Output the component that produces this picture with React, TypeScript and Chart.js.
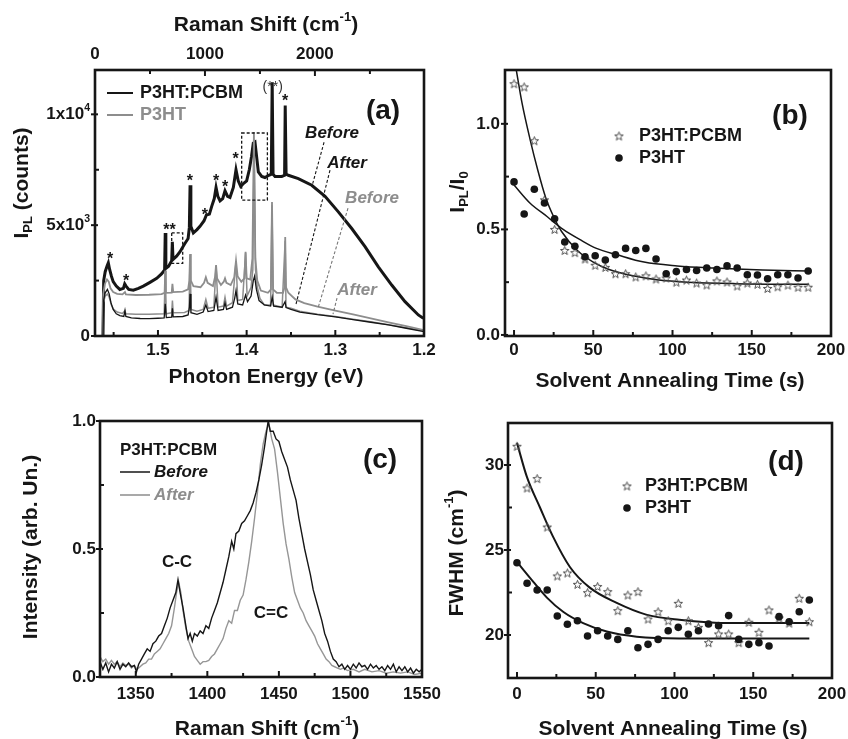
import React, { useEffect, useRef } from 'react';
import { Chart, registerables } from 'chart.js';

Chart.register(...registerables);

const W = 848;
const H = 739;
const FONT = "'Liberation Sans', Arial, Helvetica, sans-serif";
const INK = '#161616';
const GREY = '#8d8d8d';

// ================= Panel (a): PL spectra =================
const aEnergyTicks = [1.2, 1.3, 1.4, 1.5];
const aEnergyMinor = [1.25, 1.35, 1.45, 1.55];
const aRamanTicks = [0, 1000, 2000];
const aRamanMinor = [500, 1500, 2500];
const aCountTicks = [0, 5000, 10000];
const aCountMinor = [2500, 7500];
const aCountLabels = [['0', ''], ['5x10', '3'], ['1x10', '4']];

const aPcbmBefore = [
  [1.562, 0], [1.5612, 2500], [1.5595, 2900], [1.5575, 3150], [1.556, 3300], [1.5545, 3000], [1.5525, 2700],
  [1.5505, 2450], [1.547, 2250], [1.543, 2100], [1.539, 2150], [1.5375, 2350], [1.536, 2250], [1.533, 2100],
  [1.5278, 2070], [1.522, 2150], [1.5165, 2250], [1.509, 2420], [1.5014, 2600], [1.496, 2800], [1.4925, 2980],
  [1.4918, 4650], [1.4911, 3050], [1.488, 3150], [1.4845, 3400], [1.4838, 4250], [1.483, 3450], [1.479, 3600],
  [1.4751, 3800], [1.47, 4150], [1.466, 4400], [1.4646, 4900], [1.4638, 6800], [1.4629, 4950], [1.4601, 4650],
  [1.456, 4800], [1.4526, 4950], [1.448, 5200], [1.4455, 5450], [1.442, 5500], [1.4394, 5850], [1.4365, 6200],
  [1.4345, 6700], [1.4325, 6300], [1.43, 6100], [1.427, 6200], [1.4244, 6550], [1.4215, 6300], [1.4188, 6250],
  [1.415, 6700], [1.412, 7500], [1.4095, 7000], [1.4067, 6750], [1.403, 6900], [1.4, 7000], [1.397, 7500],
  [1.3945, 8100], [1.3925, 8700], [1.3906, 8750], [1.3885, 8000], [1.3868, 7400], [1.383, 7200], [1.3793, 7150],
  [1.375, 7250], [1.3722, 7300], [1.3712, 11450], [1.3702, 7300], [1.368, 7200], [1.3604, 7200], [1.3572, 7250],
  [1.3565, 10400], [1.3555, 7300], [1.353, 7250], [1.3417, 7100], [1.3266, 6800], [1.3116, 6300], [1.2966, 5600],
  [1.2815, 4850], [1.2665, 4030], [1.2515, 3120], [1.2364, 2300], [1.2214, 1550], [1.2064, 950], [1.2007, 800],
];

const aPcbmAfter = [
  [1.562, 0], [1.5613, 1600], [1.5595, 1950], [1.557, 2100], [1.555, 1900], [1.553, 1500], [1.5505, 1200],
  [1.547, 1000], [1.543, 920], [1.5385, 880], [1.5372, 1150], [1.5362, 880], [1.53, 820], [1.52, 790], [1.51, 780],
  [1.5, 800], [1.493, 820], [1.4918, 1450], [1.4906, 830], [1.4845, 850], [1.4837, 1250], [1.4828, 860],
  [1.472, 880], [1.466, 950], [1.4645, 1300], [1.4638, 1900], [1.4628, 1050], [1.456, 980], [1.449, 1080],
  [1.446, 1400], [1.4435, 1100], [1.437, 1150], [1.4345, 1750], [1.4322, 1150], [1.4262, 1200], [1.4244, 1500],
  [1.4226, 1200], [1.416, 1300], [1.4135, 1700], [1.412, 2050], [1.41, 1450], [1.4045, 1400], [1.4012, 1850],
  [1.399, 1550], [1.395, 1800], [1.3925, 2500], [1.391, 2700], [1.389, 2100], [1.386, 1600], [1.38, 1400],
  [1.373, 1350], [1.3712, 1750], [1.3695, 1350], [1.36, 1300], [1.3567, 1550], [1.3555, 1280], [1.35, 1200],
  [1.34, 1080], [1.32, 960], [1.3, 860], [1.28, 740], [1.26, 620], [1.24, 500], [1.22, 350], [1.2, 200],
];

const aP3htBefore = [
  [1.5625, 0], [1.5617, 1900], [1.5598, 2350], [1.5575, 2550], [1.5555, 2450], [1.5535, 2150], [1.5505, 1980],
  [1.546, 1900], [1.54, 1880], [1.5372, 1980], [1.5362, 1880], [1.525, 1850], [1.51, 1860], [1.496, 1890],
  [1.4925, 1950], [1.4918, 2950], [1.491, 1950], [1.4845, 1960], [1.4837, 2350], [1.4828, 1980], [1.472, 2000],
  [1.466, 2100], [1.4646, 2500], [1.4638, 3700], [1.4629, 2500], [1.46, 2250], [1.452, 2200], [1.448, 2400],
  [1.446, 2650], [1.444, 2400], [1.438, 2250], [1.4357, 2650], [1.4345, 3200], [1.4333, 2600], [1.429, 2300],
  [1.4258, 2450], [1.4244, 2600], [1.4228, 2400], [1.418, 2300], [1.414, 2650], [1.412, 3400], [1.4102, 2700],
  [1.406, 2450], [1.4025, 2600], [1.4012, 3800], [1.4, 2600], [1.396, 2550], [1.3935, 3500], [1.3918, 9200],
  [1.3902, 3500], [1.388, 2500], [1.384, 2050], [1.376, 1950], [1.3726, 2100], [1.3714, 6050], [1.3702, 2100],
  [1.366, 1950], [1.359, 1950], [1.3572, 2200], [1.3565, 4470], [1.3556, 2200], [1.353, 1950], [1.345, 1650],
  [1.335, 1480], [1.32, 1320], [1.3, 1150], [1.28, 980], [1.26, 800], [1.24, 620], [1.22, 440], [1.2, 260],
];

const aP3htAfter = [
  [1.5625, 0], [1.5616, 1500], [1.5595, 1800], [1.557, 1900], [1.555, 1750], [1.5525, 1400], [1.55, 1200],
  [1.546, 1080], [1.54, 1020], [1.5372, 1150], [1.5362, 1000], [1.525, 980], [1.51, 980], [1.493, 1000],
  [1.4918, 2900], [1.4906, 1000], [1.4845, 1050], [1.4837, 1600], [1.4828, 1050], [1.47, 1060], [1.465, 1150],
  [1.4638, 3650], [1.4626, 1200], [1.456, 1120], [1.449, 1200], [1.446, 1650], [1.4435, 1250], [1.437, 1300],
  [1.4345, 3150], [1.4322, 1300], [1.4262, 1350], [1.4244, 1750], [1.4226, 1350], [1.416, 1500], [1.412, 3350],
  [1.41, 1600], [1.4045, 1650], [1.4012, 3750], [1.3995, 1800], [1.395, 2200], [1.393, 3000], [1.3916, 8700],
  [1.39, 3000], [1.388, 2200], [1.385, 1700], [1.38, 1400], [1.373, 1400], [1.3714, 5900], [1.37, 1400],
  [1.36, 1300], [1.3566, 4300], [1.3556, 1300], [1.35, 1250], [1.34, 1120], [1.32, 980], [1.3, 880], [1.28, 760],
  [1.26, 640], [1.24, 510], [1.22, 370], [1.2, 220],
];

// ================= Panels (b), (d): time series =================
const timeS = [0, 6.4, 12.8, 19.2, 25.6, 32, 38.4, 44.8, 51.2, 57.6, 64, 70.4, 76.8, 83.2, 89.6, 96, 102.4,
  108.8, 115.2, 121.6, 128, 134.4, 140.8, 147.2, 153.6, 160, 166.4, 172.8, 179.2, 185.6];
const timeTicks = [0, 50, 100, 150, 200];
const timeMinor = [25, 75, 125, 175];

const bRatioTicks = [0, 0.5, 1.0];
const bRatioMinor = [0.25, 0.75];
const bPcbm = [1.19, 1.175, 0.92, 0.64, 0.5, 0.4, 0.39, 0.36, 0.33, 0.32, 0.29, 0.29, 0.275, 0.28, 0.265, 0.27,
  0.25, 0.26, 0.246, 0.237, 0.256, 0.251, 0.232, 0.246, 0.24, 0.22, 0.228, 0.236, 0.226, 0.226];
const bP3ht = [0.725, 0.573, 0.69, 0.625, 0.55, 0.44, 0.42, 0.37, 0.375, 0.355, 0.38, 0.41, 0.4, 0.41, 0.36, 0.29,
  0.3, 0.31, 0.305, 0.317, 0.31, 0.327, 0.317, 0.285, 0.284, 0.266, 0.285, 0.285, 0.27, 0.303];
const bPcbmFit = [[1.3, 1.26], [5, 1.1], [10, 0.93], [15, 0.78], [20, 0.65], [25, 0.56], [30, 0.49], [40, 0.4],
  [50, 0.345], [60, 0.31], [75, 0.28], [90, 0.262], [110, 0.25], [140, 0.243], [186, 0.24]];
const bP3htFit = [[0, 0.71], [10, 0.625], [21, 0.56], [31, 0.5], [42, 0.45], [52, 0.41], [65, 0.38], [82, 0.345],
  [103, 0.327], [126, 0.317], [157, 0.308], [186, 0.303]];

const dFwhmTicks = [20, 25, 30];
const dFwhmMinor = [22.5, 27.5];
const dPcbm = [31.1, 28.65, 29.2, 26.35, 23.47, 23.65, 22.98, 22.49, 22.85, 22.55, 21.43, 22.35, 22.55, 20.94,
  21.37, 20.84, 21.86, 20.84, 20.45, 19.55, 20.06, 20.06, 19.55, 20.75, 20.16, 21.47, 21.0, 20.7, 22.16, 20.78];
const dP3ht = [24.25, 23.04, 22.65, 22.65, 21.12, 20.63, 20.84, 19.94, 20.25, 19.94, 19.74, 20.25, 19.25, 19.45,
  19.74, 20.25, 20.45, 20.04, 20.25, 20.65, 20.55, 21.14, 19.74, 19.45, 19.55, 19.35, 21.08, 20.78, 21.37, 22.06];
const dPcbmFit = [[0, 31.3], [6.3, 29.3], [14.6, 27.5], [22.8, 25.8], [33.6, 24.0], [46, 22.8], [63, 21.9],
  [82, 21.2], [103, 20.9], [135, 20.7], [185.6, 20.7]];
const dP3htFit = [[0, 24.3], [8.4, 23.35], [19, 22.2], [29.5, 21.35], [42, 20.7], [57, 20.2], [76, 19.9],
  [103, 19.8], [185.6, 19.8]];

// ================= Panel (c): Raman spectra =================
const cShiftTicks = [1350, 1400, 1450, 1500, 1550];
const cShiftMinor = [1375, 1425, 1475, 1525];
const cIntTicks = [0, 0.5, 1.0];
const cIntMinor = [0.25, 0.75];
const cBefore = [
  [1325, 0.06], [1327, 0.03], [1329, 0.055], [1331, 0.02], [1333, 0.05], [1335, 0.035], [1337, 0.06], [1339, 0.03],
  [1341, 0.05], [1343, 0.04], [1345, 0.055], [1347, 0.04], [1349, 0.045], [1350.5, 0.02], [1352, 0.05], [1354, 0.07],
  [1356, 0.09], [1358, 0.11], [1360, 0.1], [1362, 0.13], [1364, 0.14], [1366, 0.16], [1368, 0.17], [1370, 0.2],
  [1372, 0.23], [1374, 0.27], [1376, 0.3], [1378, 0.33], [1379.5, 0.38], [1381, 0.33], [1383, 0.27], [1385, 0.2],
  [1386.5, 0.15], [1388, 0.17], [1389.5, 0.14], [1391, 0.17], [1393, 0.16], [1395, 0.18], [1397, 0.17], [1399, 0.2],
  [1401, 0.19], [1403, 0.23], [1405, 0.26], [1407, 0.29], [1409, 0.33], [1411, 0.37], [1413, 0.42], [1415, 0.47],
  [1417, 0.53], [1418.5, 0.5], [1420, 0.56], [1422, 0.57], [1424, 0.6], [1426, 0.61], [1428, 0.63], [1430, 0.65],
  [1432, 0.68], [1434, 0.72], [1436, 0.77], [1438, 0.83], [1440, 0.9], [1441.5, 0.96], [1442.5, 1.0], [1444, 0.96],
  [1446, 0.96], [1448, 0.93], [1450, 0.92], [1452, 0.88], [1454, 0.85], [1456, 0.82], [1458, 0.77], [1460, 0.73],
  [1462, 0.69], [1464, 0.62], [1466, 0.56], [1468, 0.5], [1470, 0.45], [1472, 0.4], [1474, 0.34], [1476, 0.3],
  [1478, 0.26], [1480, 0.22], [1482, 0.17], [1484, 0.14], [1486, 0.1], [1488, 0.07], [1490, 0.06], [1492, 0.04],
  [1494, 0.05], [1496, 0.03], [1498, 0.045], [1500, 0.03], [1502, 0.05], [1504, 0.035], [1506, 0.055], [1508, 0.04],
  [1510, 0.045], [1512, 0.03], [1514, 0.05], [1516, 0.035], [1518, 0.045], [1520, 0.03], [1522, 0.04], [1524, 0.025],
  [1526, 0.045], [1528, 0.03], [1530, 0.05], [1532, 0.02], [1534, 0.04], [1536, 0.025], [1538, 0.04], [1540, 0.02],
  [1542, 0.035], [1544, 0.015], [1546, 0.03], [1548, 0.02], [1550, 0.03],
];
const cAfter = [
  [1325, 0.08], [1327, 0.06], [1329, 0.07], [1331, 0.05], [1333, 0.065], [1335, 0.05], [1337, 0.06], [1339, 0.04],
  [1341, 0.055], [1343, 0.045], [1345, 0.05], [1347, 0.035], [1349, 0.045], [1351, 0.03], [1353, 0.04], [1355, 0.05],
  [1357, 0.055], [1359, 0.07], [1361, 0.07], [1363, 0.09], [1365, 0.1], [1367, 0.11], [1369, 0.13], [1371, 0.15],
  [1373, 0.17], [1375, 0.2], [1377, 0.27], [1378.5, 0.33], [1380, 0.37], [1381.5, 0.33], [1383, 0.26], [1385, 0.19],
  [1387, 0.14], [1389, 0.11], [1391, 0.08], [1393, 0.065], [1395, 0.05], [1397, 0.06], [1399, 0.06], [1401, 0.065],
  [1403, 0.08], [1405, 0.09], [1407, 0.11], [1409, 0.13], [1411, 0.15], [1413, 0.19], [1415, 0.22], [1417, 0.21],
  [1419, 0.26], [1421, 0.26], [1423, 0.3], [1425, 0.32], [1427, 0.38], [1429, 0.45], [1431, 0.53], [1433, 0.62],
  [1435, 0.72], [1437, 0.83], [1439, 0.91], [1441, 0.96], [1443, 0.99], [1445, 0.93], [1447, 0.89], [1449, 0.8],
  [1451, 0.7], [1453, 0.6], [1455, 0.52], [1457, 0.46], [1459, 0.39], [1461, 0.33], [1463, 0.3], [1465, 0.27],
  [1467, 0.25], [1469, 0.22], [1471, 0.2], [1473, 0.18], [1475, 0.16], [1477, 0.13], [1479, 0.11], [1481, 0.09],
  [1483, 0.07], [1485, 0.06], [1487, 0.045], [1489, 0.04], [1491, 0.035], [1493, 0.03], [1495, 0.035], [1498, 0.025],
  [1502, 0.03], [1506, 0.02], [1510, 0.03], [1515, 0.02], [1520, 0.025], [1525, 0.015], [1530, 0.02], [1535, 0.015],
  [1540, 0.02], [1545, 0.01], [1550, 0.015],
];

// ================= helpers =================
type Seg = { t: string; k?: 'sup' | 'sub' };

function rich(ctx: any, segs: Seg[], x: number, y: number, size: number, opt: any = {}) {
  ctx.save();
  ctx.translate(x, y);
  if (opt.rot) ctx.rotate(-Math.PI / 2);
  ctx.fillStyle = opt.color || INK;
  ctx.textBaseline = 'middle';
  ctx.textAlign = 'left';
  const f = (s: number) => `${opt.italic ? 'italic ' : ''}${opt.normal ? '' : 'bold '}${s}px ${FONT}`;
  const sizes = segs.map((s) => (s.k ? size * 0.62 : size));
  const widths = segs.map((s, i) => {
    ctx.font = f(sizes[i]);
    return ctx.measureText(s.t).width;
  });
  const total = widths.reduce((a, b) => a + b, 0);
  let cx = opt.align === 'left' ? 0 : opt.align === 'right' ? -total : -total / 2;
  segs.forEach((s, i) => {
    ctx.font = f(sizes[i]);
    const dy = s.k === 'sup' ? -size * 0.36 : s.k === 'sub' ? size * 0.3 : 0;
    ctx.fillText(s.t, cx, dy);
    cx += widths[i];
  });
  ctx.restore();
}

function txt(ctx: any, s: string, x: number, y: number, size: number, opt: any = {}) {
  rich(ctx, [{ t: s }], x, y, size, opt);
}

function frame(chart: any, ctx: any, specs: any[]) {
  const a = chart.chartArea;
  ctx.strokeStyle = INK;
  ctx.lineWidth = 2;
  for (const s of specs) {
    const sc = chart.scales[s.id];
    const mark = (v: number, major: boolean) => {
      const p = sc.getPixelForValue(v);
      const len = major ? 6 : 4;
      ctx.beginPath();
      if (s.side === 'bottom') {
        ctx.moveTo(p, a.bottom);
        ctx.lineTo(p, a.bottom - len);
      } else if (s.side === 'top') {
        ctx.moveTo(p, a.top);
        ctx.lineTo(p, a.top + len);
      } else {
        ctx.moveTo(a.left - (major ? 4 : 0), p);
        ctx.lineTo(a.left + (major ? 3 : 4), p);
      }
      ctx.stroke();
    };
    s.major.forEach((v: number) => mark(v, true));
    s.minor.forEach((v: number) => mark(v, false));
  }
  ctx.lineWidth = 2.6;
  ctx.strokeRect(a.left, a.top, a.right - a.left, a.bottom - a.top);
}

// size = the exact thickness of the scale box (so labels are not clipped)
function axis(o: any) {
  return {
    type: 'linear',
    axis: o.axis,
    position: o.position,
    min: o.min,
    max: o.max,
    reverse: !!o.reverse,
    grid: { display: false, drawTicks: false },
    border: { display: false },
    afterBuildTicks: (s: any) => {
      s.ticks = o.ticks.map((v: number) => ({ value: v }));
    },
    afterFit: (s: any) => {
      if (o.axis === 'x') s.height = o.size;
      else s.width = o.size;
      s.paddingLeft = 0;
      s.paddingRight = 0;
      s.paddingTop = 0;
      s.paddingBottom = 0;
    },
    ticks: {
      display: o.show !== false,
      padding: o.pad,
      autoSkip: false,
      maxRotation: 0,
      minRotation: 0,
      color: INK,
      font: { family: FONT, size: 17, weight: 'bold' },
      callback: (v: any) => (o.fmt ? o.fmt(Number(v)) : String(v)),
    },
  };
}

function config(padding: any, scales: any, datasets: any[], draw: (chart: any, ctx: any) => void) {
  return {
    type: 'scatter',
    data: { datasets },
    options: {
      responsive: false,
      animation: false,
      events: [],
      layout: { padding },
      plugins: { legend: { display: false }, tooltip: { enabled: false } },
      scales,
    },
    plugins: [
      {
        id: 'deco',
        afterDatasetsDraw(chart: any) {
          const ctx = chart.ctx;
          ctx.save();
          draw(chart, ctx);
          ctx.restore();
        },
      },
    ],
  };
}

const pts = (arr: number[][]) => arr.map(([x, y]) => ({ x, y }));
const series = (xs: number[], ys: number[]) => xs.map((x, i) => ({ x, y: ys[i] }));

function makeStar(size = 11, color = '#505050') {
  const c = document.createElement('canvas');
  c.width = size;
  c.height = size;
  const g = c.getContext('2d')!;
  const cx = size / 2;
  const cy = size / 2 + 0.4;
  const R = size / 2 - 1;
  const r = R * 0.42;
  g.beginPath();
  for (let i = 0; i < 10; i++) {
    const ang = -Math.PI / 2 + (i * Math.PI) / 5;
    const rad = i % 2 === 0 ? R : r;
    const x = cx + rad * Math.cos(ang);
    const y = cy + rad * Math.sin(ang);
    if (i) g.lineTo(x, y);
    else g.moveTo(x, y);
  }
  g.closePath();
  g.strokeStyle = color;
  g.lineWidth = 1;
  g.stroke();
  return c;
}

const CM1: Seg[] = [{ t: 'Raman Shift (cm' }, { t: '-1', k: 'sup' }, { t: ')' }];

// ================= panel configs =================
function configA() {
  // plot frame: left 95, top 70, right 424, bottom 336
  const scales = {
    x: axis({ axis: 'x', position: 'bottom', size: H - 336, min: 1.2, max: 1.571, reverse: true, ticks: aEnergyTicks, pad: 4, fmt: (v: number) => v.toFixed(1) }),
    x2: axis({ axis: 'x', position: 'top', size: 70, min: 0, max: 2992, ticks: aRamanTicks, pad: 5, fmt: (v: number) => String(v) }),
    y: axis({ axis: 'y', position: 'left', size: 95, min: 0, max: 12000, ticks: aCountTicks, pad: 5, show: false }),
  };
  const line = (d: number[][], color: string, w: number, order: number) => ({
    data: pts(d), showLine: true, borderColor: color, borderWidth: w, pointRadius: 0, order, tension: 0,
  });
  const datasets = [
    line(aPcbmBefore, INK, 3, 4),
    line(aP3htBefore, GREY, 1.8, 3),
    line(aP3htAfter, GREY, 1.5, 2),
    line(aPcbmAfter, INK, 1.3, 1),
  ];
  const boxes = [
    { e0: 1.4056, e1: 1.3766, c0: 6127, c1: 9159 },
    { e0: 1.4845, e1: 1.4721, c0: 3275, c1: 4654 },
  ];
  const leaders = [
    { e0: 1.3127, c0: 8740, e1: 1.3263, c1: 6758, color: INK },
    { e0: 1.306, c0: 7478, e1: 1.3443, c1: 1442, color: INK },
    { e0: 1.2857, c0: 5766, e1: 1.3195, c1: 1261, color: '#777' },
    { e0: 1.2981, c0: 1712, e1: 1.3026, c1: 991, color: '#777' },
  ];
  const stars = [
    { e: 1.554, c: 3650, s: '*' }, { e: 1.536, c: 2660, s: '*' }, { e: 1.487, c: 4955, s: '**' },
    { e: 1.464, c: 7160, s: '*' }, { e: 1.447, c: 5630, s: '*' }, { e: 1.4345, c: 7178, s: '*' },
    { e: 1.4244, c: 6890, s: '*' }, { e: 1.4123, c: 8150, s: '*' }, { e: 1.3567, c: 10770, s: '*' },
  ];
  const notes = [
    { e: 1.3037, c: 9145, s: 'Before', color: INK },
    { e: 1.2868, c: 7794, s: 'After', color: INK },
    { e: 1.2586, c: 6217, s: 'Before', color: GREY },
    { e: 1.2755, c: 2072, s: 'After', color: GREY },
  ];
  const draw = (chart: any, ctx: any) => {
    const X = chart.scales.x;
    const Y = chart.scales.y;
    const px = (e: number) => X.getPixelForValue(e);
    const py = (c: number) => Y.getPixelForValue(c);
    ctx.save();
    ctx.setLineDash([3, 2]);
    ctx.lineWidth = 1.3;
    ctx.strokeStyle = INK;
    for (const b of boxes) ctx.strokeRect(px(b.e0), py(b.c1), px(b.e1) - px(b.e0), py(b.c0) - py(b.c1));
    ctx.lineWidth = 1.1;
    for (const l of leaders) {
      ctx.strokeStyle = l.color;
      ctx.beginPath();
      ctx.moveTo(px(l.e0), py(l.c0));
      ctx.lineTo(px(l.e1), py(l.c1));
      ctx.stroke();
    }
    ctx.restore();
    ctx.fillStyle = INK;
    ctx.font = `bold 16px ${FONT}`;
    ctx.textAlign = 'center';
    ctx.textBaseline = 'alphabetic';
    for (const s of stars) ctx.fillText(s.s, px(s.e), py(s.c) + 9);
    ctx.font = `14px ${FONT}`;
    ctx.fillStyle = '#333';
    ctx.fillText('(**)', px(1.3706), py(11300) + 5);
    for (const n of notes) txt(ctx, n.s, px(n.e), py(n.c), 17, { italic: true, color: n.color });
    frame(chart, ctx, [
      { id: 'x', side: 'bottom', major: aEnergyTicks, minor: aEnergyMinor },
      { id: 'x2', side: 'top', major: aRamanTicks, minor: aRamanMinor },
      { id: 'y', side: 'left', major: aCountTicks, minor: aCountMinor },
    ]);
    aCountTicks.forEach((v, i) => {
      const [base, sup] = aCountLabels[i];
      rich(ctx, sup ? [{ t: base }, { t: sup, k: 'sup' }] : [{ t: base }], 90, py(v), 17, { align: 'right' });
    });
    // legend
    ctx.lineWidth = 2;
    ctx.strokeStyle = INK;
    ctx.beginPath(); ctx.moveTo(107, 93); ctx.lineTo(133, 93); ctx.stroke();
    ctx.strokeStyle = GREY;
    ctx.beginPath(); ctx.moveTo(107, 115); ctx.lineTo(133, 115); ctx.stroke();
    txt(ctx, 'P3HT:PCBM', 140, 93, 18, { align: 'left' });
    txt(ctx, 'P3HT', 140, 115, 18, { align: 'left', color: GREY });
    txt(ctx, '(a)', 383, 111, 28);
    rich(ctx, CM1, 266, 25, 21);
    txt(ctx, 'Photon Energy (eV)', 266, 377, 21);
    rich(ctx, [{ t: 'I' }, { t: 'PL', k: 'sub' }, { t: ' (counts)' }], 22, 183, 21, { rot: true });
  };
  return config({ left: 0, top: 0, right: W - 424, bottom: 0 }, scales, datasets, draw);
}

function configB(star: any) {
  // plot frame: left 505, top 70, right 831, bottom 336
  const scales = {
    x: axis({ axis: 'x', position: 'bottom', size: H - 336, min: -5.7, max: 200, ticks: timeTicks, pad: 4, fmt: (v: number) => String(v) }),
    y: axis({ axis: 'y', position: 'left', size: 505, min: -0.005, max: 1.255, ticks: bRatioTicks, pad: 5, fmt: (v: number) => v.toFixed(1) }),
  };
  const datasets = [
    { data: series(timeS, bPcbm), pointStyle: star, pointRadius: 5, showLine: false, order: 2 },
    { data: series(timeS, bP3ht), pointStyle: 'circle', pointRadius: 3.8, backgroundColor: INK, borderWidth: 0, showLine: false, order: 1 },
    { data: pts(bPcbmFit), showLine: true, pointRadius: 0, borderColor: INK, borderWidth: 1.5, cubicInterpolationMode: 'monotone', order: 3 },
    { data: pts(bP3htFit), showLine: true, pointRadius: 0, borderColor: INK, borderWidth: 1.5, cubicInterpolationMode: 'monotone', order: 3 },
  ];
  const draw = (chart: any, ctx: any) => {
    frame(chart, ctx, [
      { id: 'x', side: 'bottom', major: timeTicks, minor: timeMinor },
      { id: 'y', side: 'left', major: bRatioTicks, minor: bRatioMinor },
    ]);
    ctx.drawImage(star, 619 - star.width / 2, 136 - star.height / 2);
    ctx.fillStyle = INK;
    ctx.beginPath(); ctx.arc(619, 158, 3.8, 0, Math.PI * 2); ctx.fill();
    txt(ctx, 'P3HT:PCBM', 639, 136, 18, { align: 'left' });
    txt(ctx, 'P3HT', 639, 158, 18, { align: 'left' });
    txt(ctx, '(b)', 790, 116, 28);
    txt(ctx, 'Solvent Annealing Time (s)', 670, 381, 21);
    rich(ctx, [{ t: 'I' }, { t: 'PL', k: 'sub' }, { t: '/I' }, { t: '0', k: 'sub' }], 458, 192, 21, { rot: true });
  };
  return config({ left: 0, top: 70, right: W - 831, bottom: 0 }, scales, datasets, draw);
}

function configC() {
  // plot frame: left 100, top 421, right 422, bottom 677
  const scales = {
    x: axis({ axis: 'x', position: 'bottom', size: H - 677, min: 1325, max: 1550, ticks: cShiftTicks, pad: 7, fmt: (v: number) => String(v) }),
    y: axis({ axis: 'y', position: 'left', size: 100, min: 0, max: 1.0, ticks: cIntTicks, pad: 4, fmt: (v: number) => v.toFixed(1) }),
  };
  const datasets = [
    { data: pts(cBefore), showLine: true, pointRadius: 0, borderColor: INK, borderWidth: 1.4, order: 1 },
    { data: pts(cAfter), showLine: true, pointRadius: 0, borderColor: '#969696', borderWidth: 1.4, order: 2 },
  ];
  const draw = (chart: any, ctx: any) => {
    frame(chart, ctx, [
      { id: 'x', side: 'bottom', major: cShiftTicks, minor: cShiftMinor },
      { id: 'y', side: 'left', major: cIntTicks, minor: cIntMinor },
    ]);
    txt(ctx, 'P3HT:PCBM', 120, 450, 17, { align: 'left' });
    ctx.lineWidth = 1.5;
    ctx.strokeStyle = INK;
    ctx.beginPath(); ctx.moveTo(120, 472); ctx.lineTo(150, 472); ctx.stroke();
    ctx.strokeStyle = GREY;
    ctx.beginPath(); ctx.moveTo(120, 495); ctx.lineTo(150, 495); ctx.stroke();
    txt(ctx, 'Before', 154, 472, 17, { align: 'left', italic: true });
    txt(ctx, 'After', 154, 495, 17, { align: 'left', italic: true, color: GREY });
    txt(ctx, 'C-C', 177, 562, 17);
    txt(ctx, 'C=C', 271, 613, 17);
    txt(ctx, '(c)', 380, 460, 28);
    rich(ctx, CM1, 267, 729, 21);
    txt(ctx, 'Intensity (arb. Un.)', 31, 547, 21, { rot: true });
  };
  return config({ left: 0, top: 421, right: W - 422, bottom: 0 }, scales, datasets, draw);
}

function configD(star: any) {
  // plot frame: left 508, top 423, right 832, bottom 678
  const scales = {
    x: axis({ axis: 'x', position: 'bottom', size: H - 678, min: -5.7, max: 200, ticks: timeTicks, pad: 6, fmt: (v: number) => String(v) }),
    y: axis({ axis: 'y', position: 'left', size: 508, min: 17.47, max: 32.47, ticks: dFwhmTicks, pad: 4, fmt: (v: number) => String(v) }),
  };
  const datasets = [
    { data: series(timeS, dPcbm), pointStyle: star, pointRadius: 5, showLine: false, order: 2 },
    { data: series(timeS, dP3ht), pointStyle: 'circle', pointRadius: 3.8, backgroundColor: INK, borderWidth: 0, showLine: false, order: 1 },
    { data: pts(dPcbmFit), showLine: true, pointRadius: 0, borderColor: INK, borderWidth: 2, cubicInterpolationMode: 'monotone', order: 3 },
    { data: pts(dP3htFit), showLine: true, pointRadius: 0, borderColor: INK, borderWidth: 2, cubicInterpolationMode: 'monotone', order: 3 },
  ];
  const draw = (chart: any, ctx: any) => {
    frame(chart, ctx, [
      { id: 'x', side: 'bottom', major: timeTicks, minor: timeMinor },
      { id: 'y', side: 'left', major: dFwhmTicks, minor: dFwhmMinor },
    ]);
    ctx.drawImage(star, 627 - star.width / 2, 486 - star.height / 2);
    ctx.fillStyle = INK;
    ctx.beginPath(); ctx.arc(627, 508, 3.8, 0, Math.PI * 2); ctx.fill();
    txt(ctx, 'P3HT:PCBM', 645, 486, 18, { align: 'left' });
    txt(ctx, 'P3HT', 645, 508, 18, { align: 'left' });
    txt(ctx, '(d)', 786, 462, 28);
    txt(ctx, 'Solvent Annealing Time (s)', 673, 729, 21);
    rich(ctx, [{ t: 'FWHM (cm' }, { t: '-1', k: 'sup' }, { t: ')' }], 457, 553, 21, { rot: true });
  };
  return config({ left: 0, top: 423, right: W - 832, bottom: 0 }, scales, datasets, draw);
}

export default function App() {
  const r1 = useRef<HTMLCanvasElement>(null);
  const r2 = useRef<HTMLCanvasElement>(null);
  const r3 = useRef<HTMLCanvasElement>(null);
  const r4 = useRef<HTMLCanvasElement>(null);

  useEffect(() => {
    const star = makeStar();
    const charts = [
      new Chart(r1.current as any, configA() as any),
      new Chart(r2.current as any, configB(star) as any),
      new Chart(r3.current as any, configC() as any),
      new Chart(r4.current as any, configD(star) as any),
    ];
    return () => charts.forEach((c) => c.destroy());
  }, []);

  const st: any = { position: 'absolute', left: 0, top: 0, width: W, height: H };
  return (
    <div style={{ position: 'absolute', left: 0, top: 0, width: W, height: H, background: '#fff', overflow: 'hidden' }}>
      <canvas ref={r1} width={W} height={H} style={st} />
      <canvas ref={r2} width={W} height={H} style={st} />
      <canvas ref={r3} width={W} height={H} style={st} />
      <canvas ref={r4} width={W} height={H} style={st} />
    </div>
  );
}
